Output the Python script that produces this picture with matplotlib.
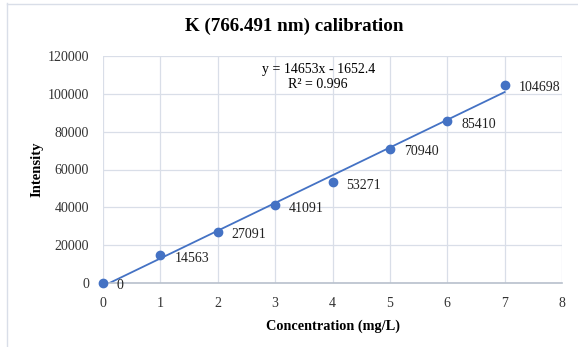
import matplotlib
matplotlib.use("Agg")
import matplotlib.pyplot as plt
import numpy as np
from matplotlib.lines import Line2D

conc = [0, 1, 2, 3, 4, 5, 6, 7]
intensity = [0, 14563, 27091, 41091, 53271, 70940, 85410, 104698]
labels = ["0", "14563", "27091", "41091", "53271", "70940", "85410", "104698"]
slope, intercept = 14653, -1652.4
eq_text = "y = 14653x - 1652.4"
r2_text = "R² = 0.996"

plt.rcParams['font.family'] = ['Liberation Serif', 'DejaVu Serif']
fig = plt.figure(figsize=(5.78, 3.47), dpi=100)
ax = fig.add_axes([103/578, 1-283/347, (562-103)/578, (283-56)/347])

blue = '#4472C4'
xs = np.array([0, 7])
ax.plot(xs, slope*xs + intercept, color=blue, lw=1.3, zorder=2)
ax.plot(conc, intensity, 'o', color=blue, ms=6, zorder=3, clip_on=False)
for x, y, t in zip(conc, intensity, labels):
    ax.annotate(t, (x, y), xytext=(10, -2), textcoords='offset points',
                ha='left', va='center', fontsize=10, color='#222222')

ax.set_xlim(0, 8)
ax.set_ylim(0, 120000)
ax.set_xticks(range(0, 9))
ax.set_yticks(range(0, 120001, 20000))
ax.grid(True, color='#D9DEE8', lw=0.9)
ax.set_axisbelow(True)
for s in ['top', 'right', 'left']:
    ax.spines[s].set_visible(False)
ax.spines['bottom'].set_color('#B8C0CC')
ax.spines['bottom'].set_linewidth(1.2)
ax.tick_params(length=0, labelsize=10, colors='#333333')
ax.tick_params(axis='x', pad=10)
ax.tick_params(axis='y', pad=10)
ax.set_xlabel('Concentration (mg/L)', fontsize=10.3, fontweight='bold', labelpad=7)
ax.set_ylabel('Intensity', fontsize=10.5, fontweight='bold', labelpad=3)

fig.text(294.5/578, 1-26/347, 'K (766.491 nm) calibration', ha='center', va='center',
         fontsize=13.7, fontweight='bold')
fig.text(319/578, 1-70/347, eq_text, ha='center', va='center', fontsize=10)
fig.text(318/578, 1-85/347, r2_text, ha='center', va='center', fontsize=10)

fig.add_artist(Line2D([6.5/578, 6.5/578], [0, 1-3/347], transform=fig.transFigure, color='#D9DEE8', lw=1))
fig.add_artist(Line2D([6.5/578, 1], [1-3.5/347, 1-3.5/347], transform=fig.transFigure, color='#D9DEE8', lw=1))

fig.savefig('out.png', dpi=100)
